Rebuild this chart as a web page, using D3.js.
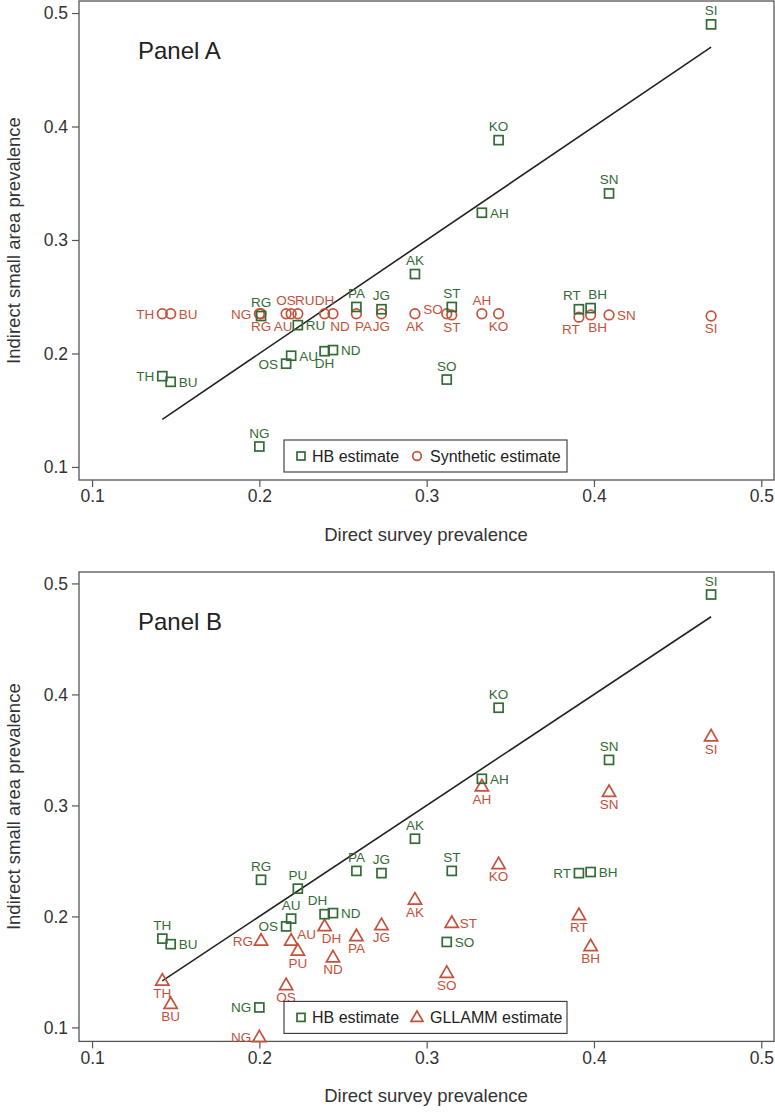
<!DOCTYPE html>
<html>
<head>
	<title>Direct vs indirect prevalence</title>
	<meta charset="utf-8"/>
	<script src="https://d3js.org/d3.v7.min.js" charset="utf-8"></script>
	<style>
		body{ margin:0; background:#fff; }
		svg{ display:block; font-family:"Liberation Sans", Arial, sans-serif; }
		.frame{ fill:none; stroke:#555; stroke-width:1.3; }
		.axis text{ font-size:17.5px; fill:#333; }
		.axis line{ stroke:#555; stroke-width:1.2; }
		.axis path{ display:none; }
		.title{ font-size:18.5px; fill:#333; }
		.lbl{ font-size:13.5px; }
	</style>
</head>
<body>
<script>
	// districts, same order in every array below
	var districts  = ["SI","KO","SN","AH","AK","ST","PA","JG","RT","BH","RG","RU","AU","OS","DH","ND","SO","TH","BU","NG"];
	var districtsB = ["SI","KO","SN","AH","AK","ST","PA","JG","RT","BH","RG","PU","AU","OS","DH","ND","SO","TH","BU","NG"];
	var direct    = [0.470,0.343,0.409,0.333,0.293,0.315,0.258,0.273,0.391,0.398,0.201,0.223,0.219,0.216,0.239,0.244,0.312,0.142,0.147,0.200];
	var hb        = [0.490,0.388,0.341,0.324,0.270,0.241,0.241,0.239,0.239,0.240,0.233,0.225,0.198,0.191,0.202,0.203,0.177,0.180,0.175,0.118];
	var synthetic = [0.233,0.235,0.234,0.235,0.235,0.234,0.235,0.235,0.232,0.234,0.235,0.235,0.235,0.235,0.235,0.235,0.235,0.235,0.235,0.235];
	var gllamm    = [0.362,0.247,0.312,0.317,0.215,0.194,0.182,0.192,0.201,0.173,0.178,0.169,0.178,0.138,0.191,0.163,0.149,0.142,0.121,0.091];
	var ticks = [0.1,0.2,0.3,0.4,0.5];

	// label clock positions (like stata mlabvpos)
	var posHbA  = [12,12,12,3,12,12,12,12,11,1,12,3,3,9,6,3,12,9,3,12];
	var posSyn  = [6,6,3,12,6,6,5,6,7,5,6,1,7,12,12,5,10,9,3,9];
	var posHbB  = [12,12,12,3,12,12,12,12,9,3,12,12,12,9,11,3,3,12,3,9];
	var posGl   = [6,6,6,6,6,3,6,6,6,6,9,6,2,6,5,6,6,6,6,9];

	var GREEN = "#336b36", RED = "#c4513a";
	var W = 775, H = 1117;

	var clock = {
		12:{a:"middle",dx:0,dy:-9}, 6:{a:"middle",dx:0,dy:17},
		3:{a:"start",dx:8,dy:5}, 9:{a:"end",dx:-8,dy:5},
		11:{a:"middle",dx:-7,dy:-9}, 1:{a:"middle",dx:7,dy:-9},
		7:{a:"middle",dx:-8,dy:17}, 5:{a:"middle",dx:7,dy:17},
		10:{a:"end",dx:-4,dy:0}, 2:{a:"start",dx:6,dy:-2}
	};

	var svg = d3.select("body").append("svg")
		.attr("width",W).attr("height",H);

	var x = d3.scaleLinear().domain([0.0922,0.5076]).range([79,774]);

	function marker(g, kind, cx, cy, color, s){
		if(kind=="square"){
			g.append("rect").attr("x",cx-s/2).attr("y",cy-s/2)
				.attr("width",s).attr("height",s)
				.attr("fill","none").attr("stroke",color).attr("stroke-width",1.7);
		}else if(kind=="circle"){
			g.append("circle").attr("cx",cx).attr("cy",cy).attr("r",s/2+0.3)
				.attr("fill","none").attr("stroke",color).attr("stroke-width",1.7);
		}else{
			g.append("path").attr("d",d3.symbol(d3.symbolTriangle, s*s*0.62)())
				.attr("transform","translate("+cx+","+(cy+0.5)+")")
				.attr("fill","none").attr("stroke",color).attr("stroke-width",1.7);
		}
	}

	function drawPanel(p){
		var y = d3.scaleLinear().domain(p.ydom).range([p.bottom,p.top]);
		var g = svg.append("g");

		g.append("g").attr("class","axis")
			.attr("transform","translate(0,"+p.bottom+")")
			.call(d3.axisBottom(x).tickValues(ticks).tickSize(7).tickPadding(3).tickFormat(d3.format(".1f")));
		g.append("g").attr("class","axis")
			.attr("transform","translate(79,0)")
			.call(d3.axisLeft(y).tickValues(ticks).tickSize(7).tickPadding(4).tickFormat(d3.format(".1f")));

		g.append("rect").attr("class","frame")
			.attr("x",79).attr("y",p.top)
			.attr("width",774-79).attr("height",p.bottom-p.top);

		g.append("text").attr("class","title")
			.attr("x",426).attr("y",p.bottom+61)
			.attr("text-anchor","middle").text("Direct survey prevalence");
		g.append("text").attr("class","title")
			.attr("transform","translate(20,"+((p.top+p.bottom)/2)+") rotate(-90)")
			.attr("text-anchor","middle").text("Indirect small area prevalence");

		g.append("text").attr("x",138).attr("y",p.top+58)
			.attr("font-size","24px").attr("fill","#222").text(p.name);

		// line of equality over the observed range
		var ext = d3.extent(direct);
		g.append("path").datum(ext)
			.attr("d",d3.line().x(function(d){return x(d);}).y(function(d){return y(d);}))
			.attr("stroke","#222").attr("stroke-width",1.6).attr("fill","none");

		// second series first, HB on top
		var sets = [
			{vals:p.other, kind:p.otherKind, color:RED, pos:p.otherPos, names:p.names},
			{vals:hb, kind:"square", color:GREEN, pos:p.hbPos, names:p.names}
		];
		sets.forEach(function(s){
			var sg = g.append("g");
			direct.forEach(function(d,i){
				marker(sg, s.kind, x(d), y(s.vals[i]), s.color, s.kind=="triangle"?11:9);
			});
			sg.selectAll("text").data(direct).enter().append("text")
				.attr("class","lbl")
				.attr("fill",s.color)
				.attr("x",function(d,i){return x(d)+clock[s.pos[i]].dx;})
				.attr("y",function(d,i){return y(s.vals[i])+clock[s.pos[i]].dy;})
				.attr("text-anchor",function(d,i){return clock[s.pos[i]].a;})
				.text(function(d,i){return s.names[i];});
		});

		// legend
		var lg = g.append("g").attr("transform","translate(284,"+(p.bottom-40)+")");
		lg.append("rect").attr("width",283).attr("height",32)
			.attr("fill","#fff").attr("stroke","#333").attr("stroke-width",1.1);
		marker(lg,"square",17,16,GREEN,8);
		lg.append("text").attr("x",28).attr("y",21.5).attr("font-size","16px").attr("fill","#222").text("HB estimate");
		marker(lg,p.otherKind,133,16,RED,p.otherKind=="triangle"?10:8);
		lg.append("text").attr("x",146).attr("y",21.5).attr("font-size","16px").attr("fill","#222").text(p.otherName);
	}

	drawPanel({name:"Panel A", top:1, bottom:480, ydom:[0.0885,0.5106],
		other:synthetic, otherKind:"circle", otherName:"Synthetic estimate",
		hbPos:posHbA, otherPos:posSyn, names:districts});
	drawPanel({name:"Panel B", top:572, bottom:1041.4, ydom:[0.0874,0.5103],
		other:gllamm, otherKind:"triangle", otherName:"GLLAMM estimate",
		hbPos:posHbB, otherPos:posGl, names:districtsB});
</script>
</body>
</html>
